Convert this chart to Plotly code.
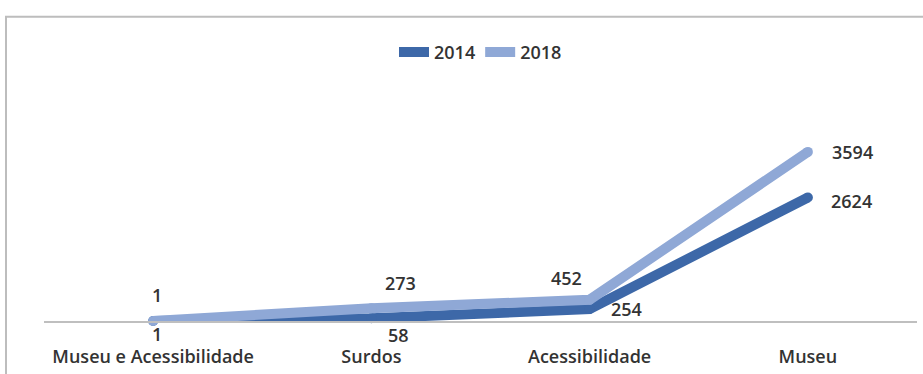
import plotly.graph_objects as go

categories = ["Museu e Acessibilidade", "Surdos", "Acessibilidade", "Museu"]
values_2014 = [1, 58, 254, 2624]
values_2018 = [1, 273, 452, 3594]

c2014 = "#3D68A8"
c2018 = "#8FA8D6"
txt = "#333333"
FONT = "Open Sans"

fig = go.Figure()
for name, vals, col in (("2014", values_2014, c2014), ("2018", values_2018, c2018)):
    fig.add_trace(go.Scatter(x=categories, y=vals, mode="lines", name=name,
                             line=dict(color=col, width=10), cliponaxis=False))
    fig.add_trace(go.Scatter(x=categories, y=vals, mode="markers", showlegend=False,
                             marker=dict(color=col, size=10, line=dict(width=0)),
                             cliponaxis=False, hoverinfo="skip"))

# label offsets (pixels) relative to each point
off_2018 = [(4, 26), (29, 25), (-23, 22), (45, 0)]
off_2014 = [(4, -13), (27, -17), (37, 0), (44, -3)]
ann = []
for vals, offs in ((values_2018, off_2018), (values_2014, off_2014)):
    for c, v, (dx, dy) in zip(categories, vals, offs):
        ann.append(dict(x=c, y=v, text=str(v), showarrow=False, xshift=dx, yshift=dy,
                        font=dict(family=FONT, size=18, color=txt, weight=600)))

ml, mr, mt, mb = 44, 6, 74, 50
W, H = 923, 374
pw, ph = W - ml - mr, H - mt - mb

def px(x):
    return (x - ml) / pw

def py(y):
    return (H - mb - y) / ph

fig.update_layout(
    width=W, height=H,
    margin=dict(l=ml, r=mr, t=mt, b=mb),
    paper_bgcolor="white", plot_bgcolor="white",
    showlegend=True,
    legend=dict(orientation="h", x=0.5, xanchor="center", y=py(52), yanchor="middle",
                font=dict(family=FONT, size=18, color=txt, weight=600),
                itemwidth=30, tracegroupgap=0),
    xaxis=dict(type="category", range=[-0.5, 3.5], showgrid=False, showline=True,
               linecolor="#BFBFBF", linewidth=2, ticks="", ticklabelstandoff=18,
               tickfont=dict(family=FONT, size=18, color=txt, weight=600), zeroline=False),
    yaxis=dict(range=[0, 5250], showgrid=False, showticklabels=False, zeroline=False,
               showline=False, ticks=""),
    annotations=ann,
    shapes=[dict(type="rect", xref="paper", yref="paper",
                 x0=px(6), x1=px(940), y0=py(16), y1=py(400),
                 line=dict(color="#BDBDBD", width=2), fillcolor="rgba(0,0,0,0)", layer="below")],
)

fig.write_html("out.html")
